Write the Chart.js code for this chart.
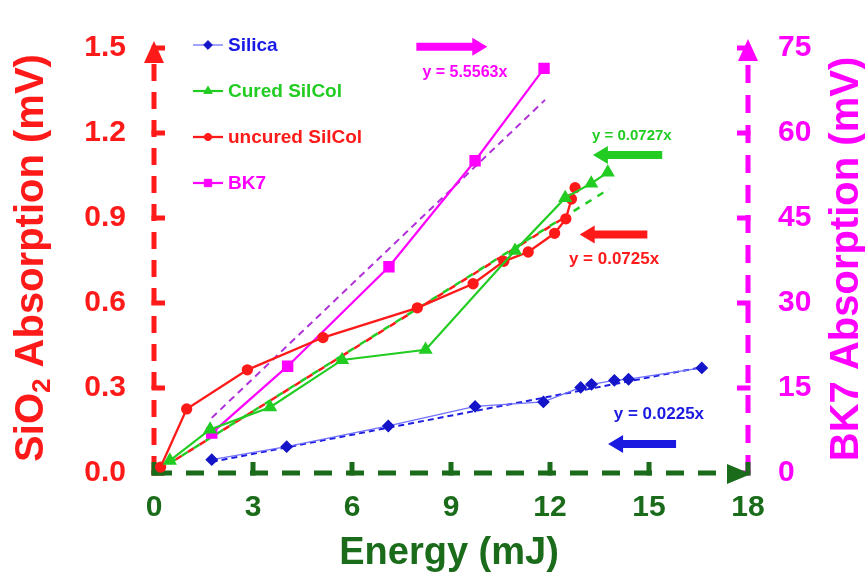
<!DOCTYPE html>
<html lang="en">
<head>
<meta charset="UTF-8">
<title>Absorption vs Energy</title>
<script src="https://cdn.jsdelivr.net/npm/chart.js"></script>
<style>
    body { margin: 0; background: #ffffff; }
    .chart-container { position: relative; width: 865px; height: 577px; }
</style>
</head>
<body>
<div class="chart-container">
    <canvas id="myChart"></canvas>
</div>

<script>
// Measured absorption signals (left axis, mV) against pulse energy (mJ)
const silicaEnergy = [1.75, 4.02, 7.1, 9.73, 11.8, 12.93, 13.26, 13.95, 14.38, 16.6];
const silicaSignal = [0.047, 0.093, 0.166, 0.235, 0.251, 0.302, 0.313, 0.327, 0.331, 0.371];

const curedEnergy = [0.48, 1.7, 3.52, 5.7, 8.23, 10.94, 12.46, 13.25, 13.75];
const curedSignal = [0.044, 0.154, 0.232, 0.399, 0.435, 0.785, 0.971, 1.022, 1.061];

const uncuredEnergy = [0.2, 0.99, 2.83, 5.12, 7.98, 9.67, 10.6, 11.34, 12.14, 12.48, 12.65, 12.76];
const uncuredSignal = [0.021, 0.226, 0.364, 0.478, 0.583, 0.668, 0.747, 0.78, 0.846, 0.897, 0.967, 1.007];

// BK7 is read on the right axis
const bk7Energy = [1.75, 4.05, 7.12, 9.73, 11.82];
const bk7Signal = [7.05, 18.85, 36.4, 55.1, 71.4];

// Linear fits through the origin: slope and energy span of each fit
const fitSlopes = { silica: 0.0225, cured: 0.0727, uncured: 0.0725, bk7: 5.5563 };
const fitSpans = { silica: [1.75, 16.6], cured: [0.48, 13.8], uncured: [0.48, 12.5], bk7: [1.75, 11.85] };

// Axis ticks
const energyTicks = [0, 3, 6, 9, 12, 15, 18];
const sio2Ticks = [0, 0.3, 0.6, 0.9, 1.2, 1.5];
const bk7Ticks = [0, 15, 30, 45, 60, 75];

const FONT = "'Liberation Sans', Arial, sans-serif";
const RED = '#ff1a1a';
const GREEN = '#22cc22';
const BLUE = '#1414c8';
const MAGENTA = '#ff00ff';
const AXIS_GREEN = '#1a6b1a';

function toPoints(xs, ys) {
    return xs.map((x, i) => ({ x: x, y: ys[i] }));
}

function fitPoints(key) {
    return fitSpans[key].map(x => ({ x: x, y: fitSlopes[key] * x }));
}

// fit equations with their arrows (data units; arrow runs from tail to tip)
const fitNotes = [
    { text: 'y = 5.5563x', color: MAGENTA, size: 16, tx: 9.42, ty: 1.412, tail: 7.95, tip: 10.1, ay: 1.504 },
    { text: 'y = 0.0727x', color: GREEN, size: 15, tx: 14.48, ty: 1.19, tail: 15.4, tip: 13.3, ay: 1.122 },
    { text: 'y = 0.0725x', color: RED, size: 17, tx: 13.94, ty: 0.753, tail: 14.95, tip: 12.9, ay: 0.842 },
    { text: 'y = 0.0225x', color: '#1a1ae0', size: 17, tx: 15.3, ty: 0.208, tail: 15.82, tip: 13.76, ay: 0.102 }
];

function blockArrow(ctx, x0, x1, y, color) {
    const dir = x1 > x0 ? 1 : -1;
    const head = 15;
    const shaft = 4;
    const wing = 9;
    const neck = x1 - dir * head;
    ctx.fillStyle = color;
    ctx.beginPath();
    ctx.moveTo(x0, y - shaft);
    ctx.lineTo(neck, y - shaft);
    ctx.lineTo(neck, y - wing);
    ctx.lineTo(x1, y);
    ctx.lineTo(neck, y + wing);
    ctx.lineTo(neck, y + shaft);
    ctx.lineTo(x0, y + shaft);
    ctx.closePath();
    ctx.fill();
}

function triangle(ctx, pts, color) {
    ctx.fillStyle = color;
    ctx.beginPath();
    ctx.moveTo(pts[0][0], pts[0][1]);
    ctx.lineTo(pts[1][0], pts[1][1]);
    ctx.lineTo(pts[2][0], pts[2][1]);
    ctx.closePath();
    ctx.fill();
}

// dashed axes with inward ticks and arrow heads
const axesPlugin = {
    id: 'dashedAxes',
    beforeDatasetsDraw(chart) {
        const ctx = chart.ctx;
        const a = chart.chartArea;
        const sx = chart.scales.x, sy = chart.scales.y, sy2 = chart.scales.y2;
        ctx.save();
        ctx.lineWidth = 5;
        ctx.lineCap = 'butt';

        // left axis
        ctx.strokeStyle = RED;
        ctx.setLineDash([17, 11]);
        ctx.beginPath();
        ctx.moveTo(a.left, a.bottom);
        ctx.lineTo(a.left, a.top + 10);
        ctx.stroke();
        ctx.setLineDash([]);
        sio2Ticks.forEach(v => {
            const y = sy.getPixelForValue(v);
            ctx.beginPath();
            ctx.moveTo(a.left - 2.5, y);
            ctx.lineTo(a.left + 11, y);
            ctx.stroke();
        });
        triangle(ctx, [[a.left, a.top - 7], [a.left - 10, a.top + 15], [a.left + 10, a.top + 15]], RED);

        // right axis
        ctx.strokeStyle = MAGENTA;
        ctx.setLineDash([18, 12]);
        ctx.beginPath();
        ctx.moveTo(a.right, a.bottom);
        ctx.lineTo(a.right, a.top + 10);
        ctx.stroke();
        ctx.setLineDash([]);
        bk7Ticks.forEach(v => {
            const y = sy2.getPixelForValue(v);
            ctx.beginPath();
            ctx.moveTo(a.right + 2.5, y);
            ctx.lineTo(a.right - 11, y);
            ctx.stroke();
        });
        triangle(ctx, [[a.right, a.top - 9], [a.right - 10, a.top + 13], [a.right + 10, a.top + 13]], MAGENTA);

        // bottom axis
        ctx.strokeStyle = AXIS_GREEN;
        ctx.setLineDash([18, 14]);
        ctx.beginPath();
        ctx.moveTo(a.left, a.bottom);
        ctx.lineTo(a.right - 15, a.bottom);
        ctx.stroke();
        ctx.setLineDash([]);
        energyTicks.forEach(v => {
            const x = sx.getPixelForValue(v);
            ctx.beginPath();
            ctx.moveTo(x, a.bottom + 2.5);
            ctx.lineTo(x, a.bottom - 11);
            ctx.stroke();
        });
        ctx.beginPath();
        ctx.moveTo(a.left - 2.5, a.bottom);
        ctx.lineTo(a.left + 10, a.bottom);
        ctx.stroke();
        triangle(ctx, [[a.right + 3, a.bottom + 1], [a.right - 21, a.bottom - 9], [a.right - 21, a.bottom + 11]], AXIS_GREEN);
        ctx.restore();
    }
};

// axis titles, legend and fit equations
const labelsPlugin = {
    id: 'figureText',
    afterDraw(chart) {
        const ctx = chart.ctx;
        const sx = chart.scales.x, sy = chart.scales.y;
        ctx.save();

        // left title with subscript
        ctx.save();
        ctx.translate(43, 258);
        ctx.rotate(-Math.PI / 2);
        ctx.fillStyle = RED;
        ctx.textBaseline = 'alphabetic';
        ctx.textAlign = 'left';
        const big = 'bold 40px ' + FONT, small = 'bold 26px ' + FONT;
        ctx.font = big;
        const wA = ctx.measureText('SiO').width;
        const wC = ctx.measureText(' Absorption (mV)').width;
        ctx.font = small;
        const wB = ctx.measureText('2').width;
        let x = -(wA + wB + wC) / 2;
        ctx.font = big;
        ctx.fillText('SiO', x, 0);
        x += wA;
        ctx.font = small;
        ctx.fillText('2', x, 7);
        x += wB;
        ctx.font = big;
        ctx.fillText(' Absorption (mV)', x, 0);
        ctx.restore();

        // right title
        ctx.save();
        ctx.translate(858, 259);
        ctx.rotate(-Math.PI / 2);
        ctx.fillStyle = MAGENTA;
        ctx.font = 'bold 40px ' + FONT;
        ctx.textAlign = 'center';
        ctx.textBaseline = 'alphabetic';
        ctx.fillText('BK7 Absorption (mV)', 0, 0);
        ctx.restore();

        // bottom title
        ctx.fillStyle = AXIS_GREEN;
        ctx.font = 'bold 38px ' + FONT;
        ctx.textAlign = 'center';
        ctx.textBaseline = 'alphabetic';
        ctx.fillText('Energy (mJ)', 449, 564);

        // legend
        const rows = [45, 91, 137, 183];
        chart.data.datasets.slice(0, 4).forEach((ds, i) => {
            const y = rows[i];
            ctx.strokeStyle = ds.borderColor;
            ctx.lineWidth = ds.borderWidth;
            ctx.beginPath();
            ctx.moveTo(193, y);
            ctx.lineTo(223, y);
            ctx.stroke();
            ctx.fillStyle = ds.pointBackgroundColor;
            ctx.strokeStyle = ds.pointBackgroundColor;
            ctx.lineWidth = 1;
            Chart.helpers.drawPoint(ctx, { pointStyle: ds.pointStyle, radius: ds.pointRadius * 0.8, rotation: 0, borderWidth: 1 }, 208, y);
            ctx.fillStyle = ds.legendColor;
            ctx.font = 'bold 19px ' + FONT;
            ctx.textAlign = 'left';
            ctx.textBaseline = 'middle';
            ctx.fillText(ds.label, 228, y + 1);
        });

        // fit equations and arrows
        fitNotes.forEach(n => {
            ctx.fillStyle = n.color;
            ctx.font = 'bold ' + n.size + 'px ' + FONT;
            ctx.textAlign = 'center';
            ctx.textBaseline = 'middle';
            ctx.fillText(n.text, sx.getPixelForValue(n.tx), sy.getPixelForValue(n.ty));
            blockArrow(ctx, sx.getPixelForValue(n.tail), sx.getPixelForValue(n.tip), sy.getPixelForValue(n.ay), n.color);
        });
        ctx.restore();
    }
};

const tickFont = { family: FONT, size: 30, weight: 'bold' };

const ctx = document.getElementById('myChart').getContext('2d');
const chart = new Chart(ctx, {
    type: 'scatter',
    data: {
        datasets: [
            {
                label: 'Silica',
                data: toPoints(silicaEnergy, silicaSignal),
                yAxisID: 'y',
                showLine: true,
                borderColor: '#7070ff',
                borderWidth: 1.3,
                pointStyle: 'rectRot',
                pointRadius: 5.5,
                pointBackgroundColor: BLUE,
                pointBorderColor: BLUE,
                legendColor: '#1a1ae6'
            },
            {
                label: 'Cured SilCol',
                data: toPoints(curedEnergy, curedSignal),
                yAxisID: 'y',
                showLine: true,
                borderColor: GREEN,
                borderWidth: 2.2,
                pointStyle: 'triangle',
                pointRadius: 6,
                pointBackgroundColor: GREEN,
                pointBorderColor: GREEN,
                legendColor: GREEN
            },
            {
                label: 'uncured SilCol',
                data: toPoints(uncuredEnergy, uncuredSignal),
                yAxisID: 'y',
                showLine: true,
                borderColor: RED,
                borderWidth: 2.3,
                pointStyle: 'circle',
                pointRadius: 4.5,
                pointBackgroundColor: RED,
                pointBorderColor: RED,
                legendColor: RED
            },
            {
                label: 'BK7',
                data: toPoints(bk7Energy, bk7Signal),
                yAxisID: 'y2',
                showLine: true,
                borderColor: MAGENTA,
                borderWidth: 2.2,
                pointStyle: 'rect',
                pointRadius: 6.5,
                pointBackgroundColor: MAGENTA,
                pointBorderColor: MAGENTA,
                legendColor: MAGENTA
            },
            {
                label: 'Silica fit',
                data: fitPoints('silica'),
                yAxisID: 'y',
                showLine: true,
                borderColor: '#1e1ee0',
                borderWidth: 2,
                borderDash: [6, 4],
                pointRadius: 0
            },
            {
                label: 'Cured fit',
                data: fitPoints('cured'),
                yAxisID: 'y',
                showLine: true,
                borderColor: GREEN,
                borderWidth: 2.5,
                borderDash: [7, 7],
                pointRadius: 0
            },
            {
                label: 'Uncured fit',
                data: fitPoints('uncured'),
                yAxisID: 'y',
                showLine: true,
                borderColor: RED,
                borderWidth: 2.5,
                borderDash: [7, 7],
                borderDashOffset: 7,
                pointRadius: 0
            },
            {
                label: 'BK7 fit',
                data: fitPoints('bk7'),
                yAxisID: 'y2',
                showLine: true,
                borderColor: '#b030d8',
                borderWidth: 2,
                borderDash: [7, 5],
                pointRadius: 0
            }
        ]
    },
    options: {
        responsive: true,
        maintainAspectRatio: false,
        animation: false,
        layout: { padding: { top: 34, left: 0, right: 0, bottom: 0 } },
        plugins: {
            legend: { display: false },
            tooltip: { enabled: false }
        },
        elements: { line: { tension: 0 } },
        scales: {
            x: {
                type: 'linear',
                min: 0,
                max: 18,
                afterFit: scale => { scale.height = 104; },
                afterBuildTicks: scale => { scale.ticks = energyTicks.map(v => ({ value: v })); },
                grid: { display: false, drawTicks: false },
                border: { display: false },
                ticks: { color: AXIS_GREEN, font: tickFont, padding: 17, maxRotation: 0, autoSkip: false }
            },
            y: {
                type: 'linear',
                position: 'left',
                min: 0,
                max: 1.5,
                afterFit: scale => { scale.width = 154; },
                afterBuildTicks: scale => { scale.ticks = sio2Ticks.map(v => ({ value: v })); },
                grid: { display: false, drawTicks: false },
                border: { display: false },
                ticks: { color: RED, font: tickFont, padding: 28, callback: v => v.toFixed(1) }
            },
            y2: {
                type: 'linear',
                position: 'right',
                min: 0,
                max: 75,
                afterFit: scale => { scale.width = 117; },
                afterBuildTicks: scale => { scale.ticks = bk7Ticks.map(v => ({ value: v })); },
                grid: { display: false, drawTicks: false },
                border: { display: false },
                ticks: { color: MAGENTA, font: tickFont, padding: 30 }
            }
        }
    },
    plugins: [axesPlugin, labelsPlugin]
});
</script>
</body>
</html>
